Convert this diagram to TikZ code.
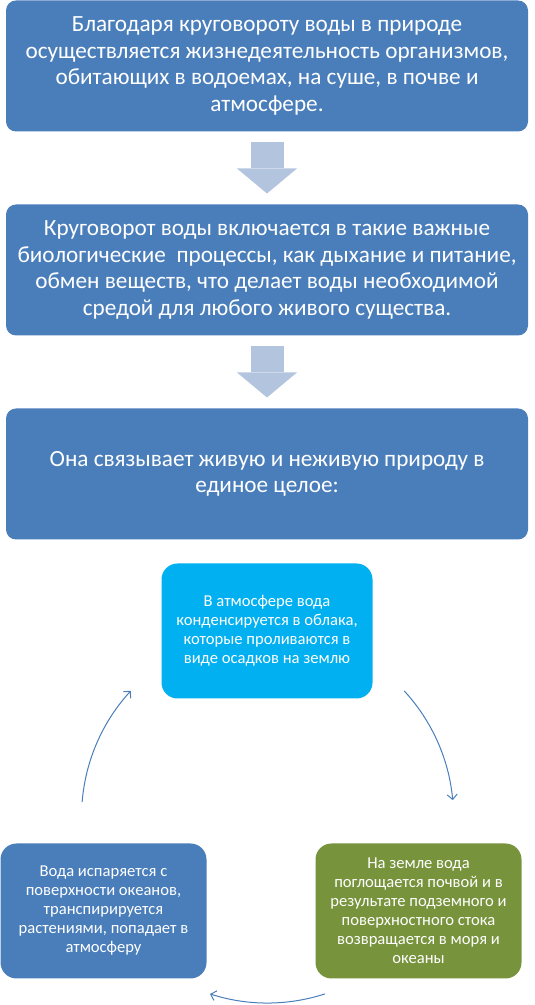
\documentclass[tikz,border=0pt]{standalone}
\usepackage{fontspec}
\setmainfont{Carlito}
\usetikzlibrary{positioning,calc,arrows.meta}
\definecolor{boxblue}{HTML}{4A7EBB}
\definecolor{skyblue}{HTML}{00B0F0}
\definecolor{leafgreen}{HTML}{77933C}
\definecolor{paleblue}{HTML}{B3C4DF}
\begin{document}
\begin{tikzpicture}[x=1pt, y=1pt, node distance=73pt,
  bigbox/.style={fill=boxblue, text=white, rounded corners=10pt, minimum width=522pt,
    minimum height=131pt, inner sep=0pt, outer sep=0pt, align=center,
    font=\fontsize{23.2}{26.7}\selectfont},
  smallbox/.style={fill=#1, text=white, rounded corners=16pt, minimum width=206pt,
    minimum height=135pt, inner sep=0pt, outer sep=0pt, align=center,
    font=\fontsize{16.6}{19}\selectfont},
  blockarr/.style={draw=paleblue, line width=33pt, shorten <=11pt, shorten >=11pt,
    -{Triangle[length=25pt, width=60pt, line width=0pt, fill=paleblue]}},
  circarr/.style={draw=boxblue, line width=1pt, -{Straight Barb[length=5pt, width=10pt]}}]
  \useasboundingbox (0,0) rectangle (535,1005);
  \node[bigbox] (1) at (267,939) {Благодаря круговороту воды в природе\\осуществляется жизнедеятельность организмов,\\обитающих в водоемах, на суше, в почве и\\атмосфере.};
  \node[bigbox, below=of 1] (2) {Круговорот воды включается в такие важные\\биологические \ процессы, как дыхание и питание,\\обмен веществ, что делает воды необходимой\\средой для любого живого существа.};
  \node[bigbox, below=of 2] (3) {Она связывает живую и неживую природу в\\единое целое:};
  \node[smallbox=skyblue, minimum width=211pt, below=24pt of 3] (4) {В атмосфере вода\\конденсируется в облака,\\которые проливаются в\\виде осадков на землю};
  \node[smallbox=boxblue, below=145pt of 4, xshift=-163.5pt] (5) {Вода испаряется с\\поверхности океанов,\\транспирируется\\растениями, попадает в\\атмосферу};
  \node[smallbox=leafgreen, below=145pt of 4, xshift=151.5pt] (6) {На земле вода\\поглощается почвой и в\\результате подземного и\\поверхностного стока\\возвращается в моря и\\океаны};
  \path[blockarr] (1) edge (2) (2) edge (3);
  % cycle arrows around the centre of the three small boxes
  \coordinate (c) at (267.5,188);
  \draw[circarr] ([shift={(42.7:186)}]c) arc[start angle=42.7, end angle=5.2, radius=186];
  \draw[circarr] ([shift={(-72:186)}]c) arc[start angle=-72, end angle=-108, radius=186];
  \draw[circarr] ([shift={(175.4:186)}]c) arc[start angle=175.4, end angle=137.3, radius=186];
\end{tikzpicture}
\end{document}
